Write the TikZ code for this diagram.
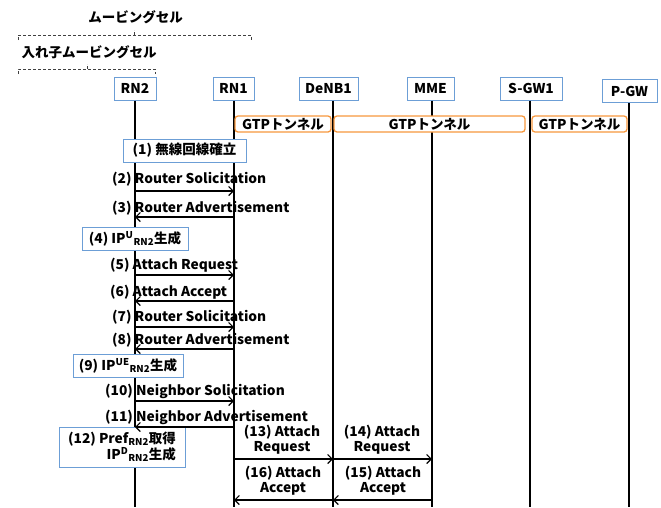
\documentclass[tikz,border=0pt]{standalone}
\usepackage{fontspec}
\setmainfont{Noto Sans CJK JP}[FakeStretch=1.02]
\newfontfamily\jpf{Noto Sans CJK JP}
\newcommand\J[1]{{\jpf\bfseries #1}}
\usetikzlibrary{arrows.meta}
\definecolor{boxblue}{RGB}{108,158,214}
\definecolor{tunorange}{RGB}{247,152,62}
\begin{document}
\begin{tikzpicture}[x=1pt,y=-1pt,
  every node/.style={font=\bfseries\fontsize{13.5}{15}\selectfont, text=black},
  hdr/.style={draw=boxblue, line width=1pt, fill=white, inner xsep=0pt, inner ysep=0pt, minimum height=23pt},
  stepbox/.style={draw=boxblue, line width=1pt, fill=white, inner sep=0pt},
  tunnel/.style={draw=tunorange, line width=1.3pt, rounded corners=3pt, fill=white, inner sep=0pt, minimum height=16pt},
  life/.style={line width=1.5pt},
  msg/.style={line width=1.2pt, -{Straight Barb[length=4.5pt,width=9pt]}},
  lbl/.style={anchor=base west, inner sep=0pt},
  two/.style={align=center, inner sep=0pt},
  brace/.style={dash pattern=on 3pt off 2pt, line width=0.8pt, black!75}]
\useasboundingbox (0,0) rectangle (661,507);

% brace annotations
\node[inner sep=0pt] (mc) at (135.5,17) {\J{ムービングセル}};
\draw[brace] (18,40) -- (18,35) -- (251,35) -- (251,40);
\draw[brace] (134,35) -- (134,30);
\node[inner sep=0pt] (nmc) at (89,52) {\J{入れ子ムービングセル}};
\draw[brace] (18,74) -- (18,69) -- (155,69) -- (155,74);
\draw[brace] (87,69) -- (87,64);

% headers
\node[hdr, minimum width=42pt] (rn2) at (135,88.5) {RN2};
\node[hdr, minimum width=41pt] (rn1) at (233.5,88.5) {RN1};
\node[hdr, minimum width=59pt] (denb) at (328.5,88.5) {DeNB1};
\node[hdr, minimum width=47pt] (mme) at (430.5,88.5) {MME};
\node[hdr, minimum width=62pt] (sgw) at (531,88.5) {S-GW1};
\node[hdr, minimum width=55pt] (pgw) at (629.5,91) {P-GW};

% lifelines
\coordinate (e2) at (135,507);
\coordinate (e1) at (234,507);
\coordinate (ed) at (333,507);
\coordinate (em) at (432,507);
\coordinate (es) at (530,507);
\coordinate (ep) at (629,507);
\draw[life] (e2 |- rn2.south) -- (e2);
\draw[life] (e1 |- rn1.south) -- (e1);
\draw[life] (ed |- denb.south) -- (ed);
\draw[life] (em |- mme.south) -- (em);
\draw[life] (es |- sgw.south) -- (es);
\draw[life] (ep |- pgw.south) -- (ep);

% tunnels
\node[tunnel, minimum width=96pt] (t1) at (283,124) {GTP\J{トンネル}};
\node[tunnel, minimum width=191pt] (t2) at (429.5,124) {GTP\J{トンネル}};
\node[tunnel, minimum width=95pt] (t3) at (579.5,124) {GTP\J{トンネル}};

% step boxes
\node[stepbox, minimum width=123pt, minimum height=23pt] (s1) at (184.5,150.5) {(1) \J{無線回線確立}};
\node[stepbox, minimum width=106pt, minimum height=23pt] (s4) at (135,238.5) {(4) IP\textsuperscript{U}\textsubscript{RN2}\J{生成}};
\node[stepbox, minimum width=110pt, minimum height=23pt] (s9) at (128,365.5) {(9) IP\textsuperscript{UE}\textsubscript{RN2}\J{生成}};
\node[stepbox, minimum width=126pt, minimum height=40pt, align=right, font=\bfseries\fontsize{13.5}{16}\selectfont] (s12) at (122,447) {(12) Pref\textsubscript{RN2}\J{取得}\\IP\textsuperscript{D}\textsubscript{RN2}\J{生成}};

% messages RN2 <-> RN1
\node[lbl] (l2) at (112,183) {(2) Router Solicitation};
\draw[msg] (e2 |- 0,191) -- (e1 |- 0,191);
\node[lbl] (l3) at (112,212) {(3) Router Advertisement};
\draw[msg] (e1 |- 0,217) -- (e2 |- 0,217);
\node[lbl] (l5) at (110,269) {(5) Attach Request};
\draw[msg] (e2 |- 0,275) -- (e1 |- 0,275);
\node[lbl] (l6) at (110,296) {(6) Attach Accept};
\draw[msg] (e1 |- 0,301) -- (e2 |- 0,301);
\node[lbl] (l7) at (112,321) {(7) Router Solicitation};
\draw[msg] (e2 |- 0,327) -- (e1 |- 0,327);
\node[lbl] (l8) at (112,344) {(8) Router Advertisement};
\draw[msg] (e1 |- 0,349) -- (e2 |- 0,349);
\node[lbl] (l10) at (105,395) {(10) Neighbor Solicitation};
\draw[msg] (e2 |- 0,401) -- (e1 |- 0,401);
\node[lbl] (l11) at (105,421) {(11) Neighbor Advertisement};
\draw[msg] (e1 |- 0,427) -- (e2 |- 0,427);

% messages RN1 <-> DeNB1 <-> MME
\node[two] (l13) at (282,440) {(13) Attach\\Request};
\draw[msg] (e1 |- 0,459) -- (ed |- 0,459);
\node[two] (l14) at (382,440) {(14) Attach\\Request};
\draw[msg] (ed |- 0,459) -- (em |- 0,459);
\node[two] (l16) at (283,481) {(16) Attach\\Accept};
\draw[msg] (ed |- 0,500) -- (e1 |- 0,500);
\node[two] (l15) at (383,481) {(15) Attach\\Accept};
\draw[msg] (em |- 0,500) -- (ed |- 0,500);
\end{tikzpicture}
\end{document}
